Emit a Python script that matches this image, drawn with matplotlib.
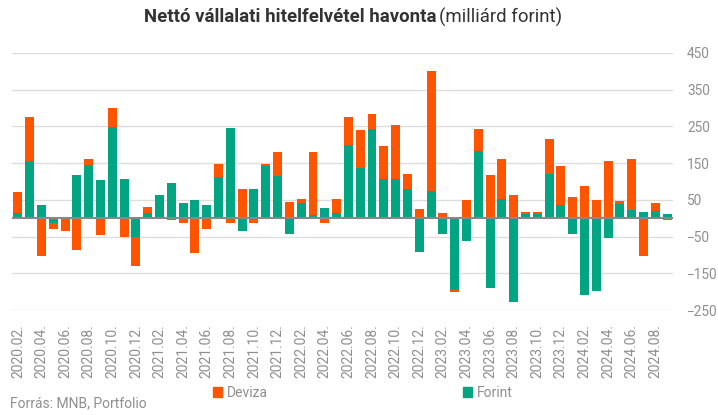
import matplotlib
matplotlib.use("Agg")
import matplotlib.pyplot as plt
from matplotlib.patches import Patch

plt.rcParams['font.family'] = ['Roboto', 'DejaVu Sans']

months = []
for y in range(2020, 2025):
    for m in range(1, 13):
        if (y == 2020 and m < 2) or (y == 2024 and m > 9):
            continue
        months.append(f"{y}.{m:02d}.")

forint = [14, 157, 37, -14, 0, 119, 146, 105, 248, 108, -52,
          14, 62, 97, 42, 50, 37, 111, 247, -34, 80, 143, 116,
          -43, 42, 8, 28, 13, 200, 138, 242, 106, 106, 79, -93,
          73, -44, -196, -63, 184, -189, 53, -228, 12, 12, 121, 37,
          -43, -209, -198, -53, 40, 23, 18, 20, 12]
deviza = [58, 120, -102, -15, -34, -86, 14, -45, 51, -50, -78,
          17, 2, -4, -14, -94, -29, 38, -14, 80, -12, 6, 65,
          45, 11, 171, -14, 40, 77, 103, 43, 92, 149, 42, 26,
          329, 15, -6, 50, 60, 119, 109, 64, 6, 6, 96, 106,
          59, 89, 50, 157, 8, 139, -102, 22, -6]

ytick_vals = [-250, -150, -50, 50, 150, 250, 350, 450]

ORANGE = '#FF5500'
GREEN = '#02A582'
GRAY = '#8f8f8f'

fig = plt.figure(figsize=(7.18, 4.15), dpi=100)
ax = fig.add_axes([12/718, 1-310/415, (673-12)/718, (310-53)/415])

x = list(range(len(months)))
# Forint closest to zero, deviza stacked beyond in its own sign direction
dev_bottom = []
for f, d in zip(forint, deviza):
    if (f >= 0 and d >= 0) or (f < 0 and d < 0):
        dev_bottom.append(f)
    else:
        dev_bottom.append(0)

w = 0.76
ax.bar(x, forint, width=w, color=GREEN, zorder=3)
ax.bar(x, deviza, width=w, bottom=dev_bottom, color=ORANGE, zorder=3)

ax.set_xlim(-0.5, len(months) - 0.5)
ax.set_ylim(-250, 450)
ax.set_yticks(ytick_vals)
ax.yaxis.tick_right()
ax.tick_params(axis='y', length=0, pad=10, labelsize=9.8, labelcolor=GRAY)
ax.grid(axis='y', color='#dddddd', linewidth=1, zorder=0)
ax.axhline(0, color='#888888', linewidth=1.5, zorder=4)

ax.set_xticks(x[::2])
ax.set_xticklabels(months[::2], rotation=90, fontsize=10, color=GRAY)
ax.tick_params(axis='x', length=0, pad=10)

for s in ax.spines.values():
    s.set_visible(False)

# Title: bold part + regular part
t1 = fig.text(436/718, 1-17/415, "Nettó vállalati hitelfelvétel havonta", ha='right', va='center',
              fontsize=13.4, fontweight='bold', color='#333333')
t2 = fig.text(439/718, 1-17/415, "(milliárd forint)", ha='left', va='center',
              fontsize=13.4, color='#333333')

fig.legend(handles=[Patch(color=ORANGE, label='Deviza')], loc='center left',
           bbox_to_anchor=(200/718, 1-393/415), frameon=False, fontsize=10,
           handlelength=0.7, handleheight=0.7, handletextpad=0.3, labelcolor=GRAY)
fig.legend(handles=[Patch(color=GREEN, label='Forint')], loc='center left',
           bbox_to_anchor=(450/718, 1-393/415), frameon=False, fontsize=10,
           handlelength=0.7, handleheight=0.7, handletextpad=0.3, labelcolor=GRAY)

fig.text(10/718, 1-403/415, "Forrás: MNB, Portfolio", ha='left', va='center',
         fontsize=10, color=GRAY)

fig.savefig("out.png", dpi=100)
